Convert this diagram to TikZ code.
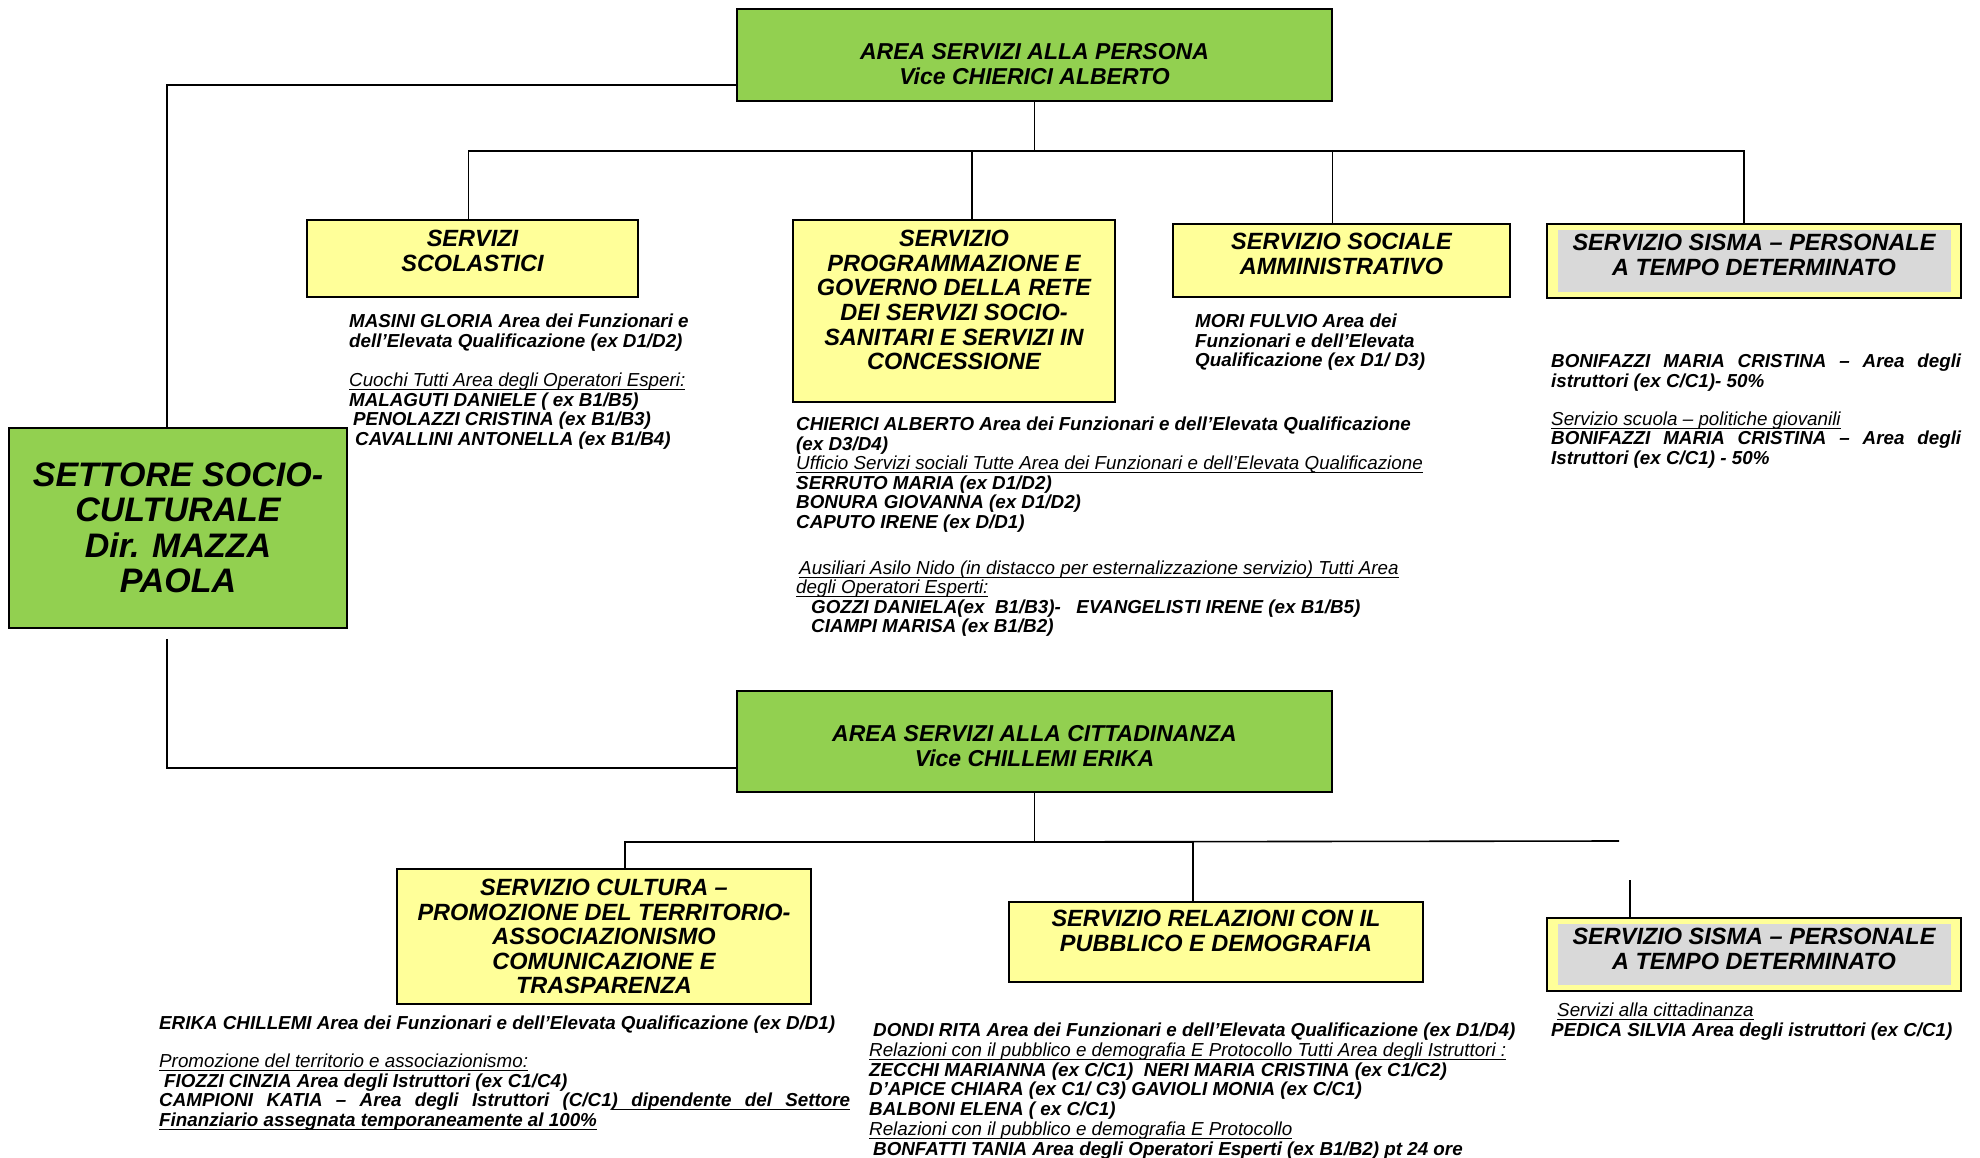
\documentclass[tikz,border=0pt]{standalone}
\usepackage{fontspec}
\setmainfont{Liberation Sans}
\usetikzlibrary{positioning, calc}

\definecolor{areagreen}{RGB}{146,208,80}
\definecolor{officeyellow}{RGB}{255,255,153}
\definecolor{sismagray}{RGB}{217,217,217}

\newsavebox{\sottobox}
\newcommand{\sottolinea}[1]{\sbox{\sottobox}{#1}\rlap{\rule[-3.6pt]{\wd\sottobox}{1.1pt}}\usebox{\sottobox}}
\newcommand{\gruppo}[1]{{\mdseries\sottolinea{#1}}}
\newcommand{\giusta}[2]{\makebox[#1][s]{#2}}
\newcommand{\gs}{\hskip 0.278em plus 1fil\relax}
\newcommand{\ugs}{\leaders\hrule height -2.5pt depth 3.6pt\hskip 0.278em plus 1fil\relax}

\begin{document}
\begin{tikzpicture}[
    x=1pt, y=-1pt,
    area/.style={draw, line width=1.8pt, fill=areagreen, minimum width=595pt, align=center, font=\fontsize{23}{25.3}\selectfont\bfseries\itshape},
    office/.style={draw, line width=1.8pt, fill=officeyellow, minimum width=414pt, align=center, font=\fontsize{23.5}{24.6}\selectfont\bfseries\itshape},
    sisma/.style={fill=sismagray, minimum width=393pt, minimum height=61pt, align=center, font=\fontsize{23.5}{24.6}\selectfont\bfseries\itshape},
    textnode/.style={anchor=north west, inner sep=0pt, align=left, font=\fontsize{18.8}{19.5}\selectfont\bfseries\itshape},
    link/.style={line width=1.6pt},
    ]
    \useasboundingbox (0,0) rectangle (1980,1158);

    % Settore and areas
    \node (S) [area, minimum width=338pt, minimum height=200pt, font=\fontsize{34}{35.5}\selectfont\bfseries\itshape] at (178,528) {SETTORE SOCIO-\\CULTURALE\\Dir. MAZZA\\PAOLA};
    \node (AP) [area, minimum height=92pt, text height=60pt] at (1034.5,55) {AREA SERVIZI ALLA PERSONA\\Vice CHIERICI ALBERTO};
    \node (AC) [area, minimum height=101pt, text height=50pt] at (1034.5,741.5) {AREA SERVIZI ALLA CITTADINANZA\\Vice CHILLEMI ERIKA};

    % Servizi alla persona
    \node (S1) [office, minimum width=331pt, minimum height=77pt, text depth=15pt] at (472.5,258.5) {SERVIZI\\SCOLASTICI};
    \node (S2) [office, minimum width=322pt, minimum height=182pt, text depth=22pt] at (954,311) {SERVIZIO\\PROGRAMMAZIONE E\\GOVERNO DELLA RETE\\DEI SERVIZI SOCIO-\\SANITARI E SERVIZI IN\\CONCESSIONE};
    \node (S3) [office, minimum width=337pt, minimum height=73pt, text depth=13pt] at (1341.5,260.5) {SERVIZIO SOCIALE\\AMMINISTRATIVO};
    \node (S4) [office, minimum height=74pt] at (1754,261) {};
    \node (S4in) [sisma, text depth=12pt] at (S4) {SERVIZIO SISMA – PERSONALE\\A TEMPO DETERMINATO};

    % Servizi alla cittadinanza
    \node (C1) [office, minimum height=135pt] at (604,936.5) {SERVIZIO CULTURA –\\PROMOZIONE DEL TERRITORIO-\\ASSOCIAZIONISMO\\COMUNICAZIONE E\\TRASPARENZA};
    \node (C2) [office, minimum height=80pt, text depth=22pt] at (1216,942) {SERVIZIO RELAZIONI CON IL\\PUBBLICO E DEMOGRAFIA};
    \node (C3) [office, minimum height=73pt] at (1754,954.5) {};
    \node (C3in) [sisma, text depth=12pt] at (C3) {SERVIZIO SISMA – PERSONALE\\A TEMPO DETERMINATO};

    % Personale
    \node (T1) [textnode] at (349,314) {MASINI GLORIA Area dei Funzionari e\\dell'Elevata Qualificazione (ex D1/D2)\\[20pt]\gruppo{Cuochi Tutti Area degli Operatori Esperi:}\\MALAGUTI DANIELE ( ex B1/B5)\\\hspace*{4pt}PENOLAZZI CRISTINA (ex B1/B3)\\\hspace*{6pt}CAVALLINI ANTONELLA (ex B1/B4)};
    \node (T2) [textnode] at (796,417) {CHIERICI ALBERTO Area dei Funzionari e dell'Elevata Qualificazione\\(ex D3/D4)\\\gruppo{Ufficio Servizi sociali Tutte Area dei Funzionari e dell'Elevata Qualificazione}\\SERRUTO MARIA (ex D1/D2)\\BONURA GIOVANNA (ex D1/D2)\\CAPUTO IRENE (ex D/D1)\\[26.5pt]\hspace*{3pt}\gruppo{Ausiliari Asilo Nido (in distacco per esternalizzazione servizio) Tutti Area}\\\gruppo{degli Operatori Esperti:}\\\hspace*{15pt}GOZZI DANIELA(ex\ \ B1/B3)-\ \ \ EVANGELISTI IRENE (ex B1/B5)\\\hspace*{15pt}CIAMPI MARISA (ex B1/B2)};
    \node (T3) [textnode] at (1195,314) {MORI FULVIO Area dei\\Funzionari e dell'Elevata\\Qualificazione (ex D1/ D3)};
    \node (T4) [textnode] at (1551,354) {\giusta{410pt}{BONIFAZZI MARIA CRISTINA – Area degli}\\istruttori (ex C/C1)- 50\%\\[18.5pt]\gruppo{Servizio scuola – politiche giovanili}\\\giusta{410pt}{BONIFAZZI MARIA CRISTINA – Area degli}\\Istruttori (ex C/C1) - 50\%};
    \node (T5) [textnode] at (159,1016) {ERIKA CHILLEMI Area dei Funzionari e dell'Elevata Qualificazione (ex D/D1)\\[18.5pt]\gruppo{Promozione del territorio e associazionismo:}\\\hspace*{5pt}FIOZZI CINZIA Area degli Istruttori (ex C1/C4)\\\giusta{691pt}{CAMPIONI\gs KATIA\gs –\gs Area\gs degli\gs Istruttori\gs (C/C1\sottolinea{)}\ugs\sottolinea{dipendente}\ugs\sottolinea{del}\ugs\sottolinea{Settore}}\\\sottolinea{Finanziario assegnata temporaneamente al 100\%}};
    \node (T6) [textnode, font=\fontsize{18.8}{19.7}\selectfont\bfseries\itshape] at (869,1023) {\hspace*{4pt}DONDI RITA Area dei Funzionari e dell'Elevata Qualificazione (ex D1/D4)\\\gruppo{Relazioni con il pubblico e demografia E Protocollo Tutti Area degli Istruttori :}\\ZECCHI MARIANNA (ex C/C1)\ \ NERI MARIA CRISTINA (ex C1/C2)\\D'APICE CHIARA (ex C1/ C3) GAVIOLI MONIA (ex C/C1)\\BALBONI ELENA ( ex C/C1)\\\gruppo{Relazioni con il pubblico e demografia E Protocollo}\\\hspace*{4pt}BONFATTI TANIA Area degli Operatori Esperti (ex B1/B2) pt 24 ore};
    \node (T7) [textnode] at (1551,1003) {\hspace*{6pt}\gruppo{Servizi alla cittadinanza}\\PEDICA SILVIA Area degli istruttori (ex C/C1)};

    % Lines
    \coordinate (BP) at ($(AP.south)+(0,49)$);
    \coordinate (BC) at ($(AC.south)+(0,49)$);
    \coordinate (BE) at (1619,841);
    \coordinate (ST) at (1630,880);

    \draw [link] ([yshift=-30pt]AP.west) -| ([xshift=-11pt]S.north);
    \draw [link] ([xshift=-11pt,yshift=-10pt]S.south) |- ([yshift=-26.5pt]AC.west);

    \draw [link] (AP.south) -- (BP);
    \draw [link] ([xshift=-4pt]S1.north) |- (BP);
    \draw [link] ([xshift=18pt]S2.north) |- (BP);
    \draw [link] ([xshift=-9pt]S3.north) |- (BP);
    \draw [link] ([xshift=-10pt]S4.north) |- (BP);

    \draw [link] (AC.south) -- (BC);
    \draw [link] ([xshift=21pt]C1.north) |- (BC);
    \draw [link] ([xshift=-23pt]C2.north) |- (BC);
    \draw [link] (BC) -- (BE);
    \draw [link] ([xshift=-124pt]C3.north) -- (ST);
\end{tikzpicture}
\end{document}
